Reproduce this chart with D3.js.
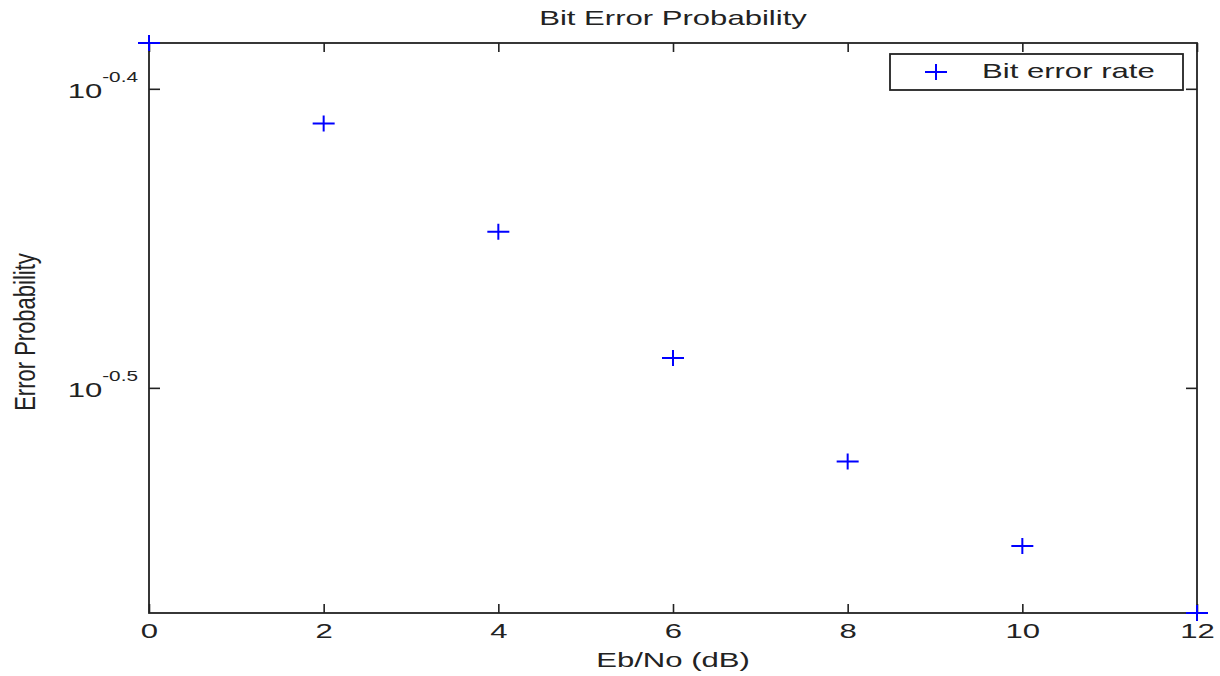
<!DOCTYPE html>
<html>
<head>
<meta charset="utf-8">
<script src="https://cdn.jsdelivr.net/npm/d3@7"></script>
<style>
  body { margin: 0; background: #fff; }
  text { font-family: "Liberation Sans", Arial, sans-serif; fill: #222; }
</style>
</head>
<body>
<svg id="chart" width="1220" height="676"></svg>
<script>
// data
const ebno = [0, 2, 4, 6, 8, 10, 12];
const ber = [0.4124, 0.3876, 0.3566, 0.3236, 0.2988, 0.2800, 0.2659];
const xTicks = [0, 2, 4, 6, 8, 10, 12];
const yTickExp = ["-0.4", "-0.5"];

const seriesName = "Bit error rate";
const title = "Bit Error Probability";
const xLabel = "Eb/No (dB)";
const yLabel = "Error Probability";

const sx = 1.48; // the picture is stretched sideways
const stretch = `scale(${sx},1)`;
const plot = {left: 149, top: 43, right: 1197, bottom: 613};

const svg = d3.select("#chart");

const x = d3.scaleLinear().domain([0, 12]).range([plot.left, plot.right]);
const y = d3.scaleLog()
  .domain([d3.min(ber), d3.max(ber)])
  .range([plot.bottom, plot.top]);

const yTickVals = yTickExp.map(e => Math.pow(10, +e));

// bottom axis
const gx = svg.append("g")
  .attr("transform", `translate(0,${plot.bottom})`)
  .call(d3.axisBottom(x).tickValues(xTicks).tickSize(-9).tickSizeOuter(0).tickPadding(10));
gx.selectAll("text").attr("font-size", 21).attr("transform", stretch);

// top axis (ticks only)
svg.append("g")
  .attr("transform", `translate(0,${plot.top})`)
  .call(d3.axisTop(x).tickValues(xTicks).tickSize(-9).tickSizeOuter(0).tickFormat(""));

// left axis
const gy = svg.append("g")
  .attr("transform", `translate(${plot.left},0)`)
  .call(d3.axisLeft(y).tickValues(yTickVals).tickSize(-11).tickSizeOuter(0).tickPadding(7.5));
gy.selectAll("text")
  .attr("font-size", 21)
  .attr("dy", null)
  .attr("transform", stretch)
  .text(null)
  .each(function(d, i) {
    const t = d3.select(this);
    t.append("tspan").attr("dy", "0.42em").text("10");
    t.append("tspan").attr("font-size", 14).attr("dy", -16).text(yTickExp[i]);
  });

// right axis (ticks only)
svg.append("g")
  .attr("transform", `translate(${plot.right},0)`)
  .call(d3.axisRight(y).tickValues(yTickVals).tickSize(-11).tickSizeOuter(0).tickFormat(""));

svg.selectAll(".domain").remove();
svg.selectAll(".tick line").attr("stroke", "#222").attr("stroke-width", 1.6);

// frame
svg.append("rect")
  .attr("x", plot.left)
  .attr("y", plot.top)
  .attr("width", plot.right - plot.left)
  .attr("height", plot.bottom - plot.top)
  .attr("fill", "none")
  .attr("stroke", "#222")
  .attr("stroke-width", 1.8);

// plus markers
const plus = "M-11,0H11M0,-8V8";
svg.append("g").selectAll("path")
  .data(ebno.map((v, i) => ({x: v, y: ber[i]})))
  .join("path")
  .attr("d", plus)
  .attr("transform", d => `translate(${x(d.x)},${y(d.y)})`)
  .attr("stroke", "#0000ff")
  .attr("stroke-width", 2)
  .attr("fill", "none");

// legend
const legend = svg.append("g");
legend.append("rect")
  .attr("x", 890).attr("y", 54)
  .attr("width", 293).attr("height", 36)
  .attr("fill", "#fff")
  .attr("stroke", "#222")
  .attr("stroke-width", 1.8);
legend.append("path")
  .attr("d", plus)
  .attr("transform", "translate(936,72)")
  .attr("stroke", "#0000ff")
  .attr("stroke-width", 2);
legend.append("text")
  .attr("transform", `translate(982,78) ${stretch}`)
  .attr("font-size", 21)
  .text(seriesName);

// titles
svg.append("text")
  .attr("transform", `translate(${(plot.left + plot.right) / 2},25) ${stretch}`)
  .attr("text-anchor", "middle")
  .attr("font-size", 21)
  .text(title);

svg.append("text")
  .attr("transform", `translate(${(plot.left + plot.right) / 2},667) ${stretch}`)
  .attr("text-anchor", "middle")
  .attr("font-size", 21)
  .text(xLabel);

svg.append("text")
  .attr("transform", `translate(35,332) scale(1.3,1) rotate(-90)`)
  .attr("text-anchor", "middle")
  .attr("font-size", 22)
  .text(yLabel);
</script>
</body>
</html>
